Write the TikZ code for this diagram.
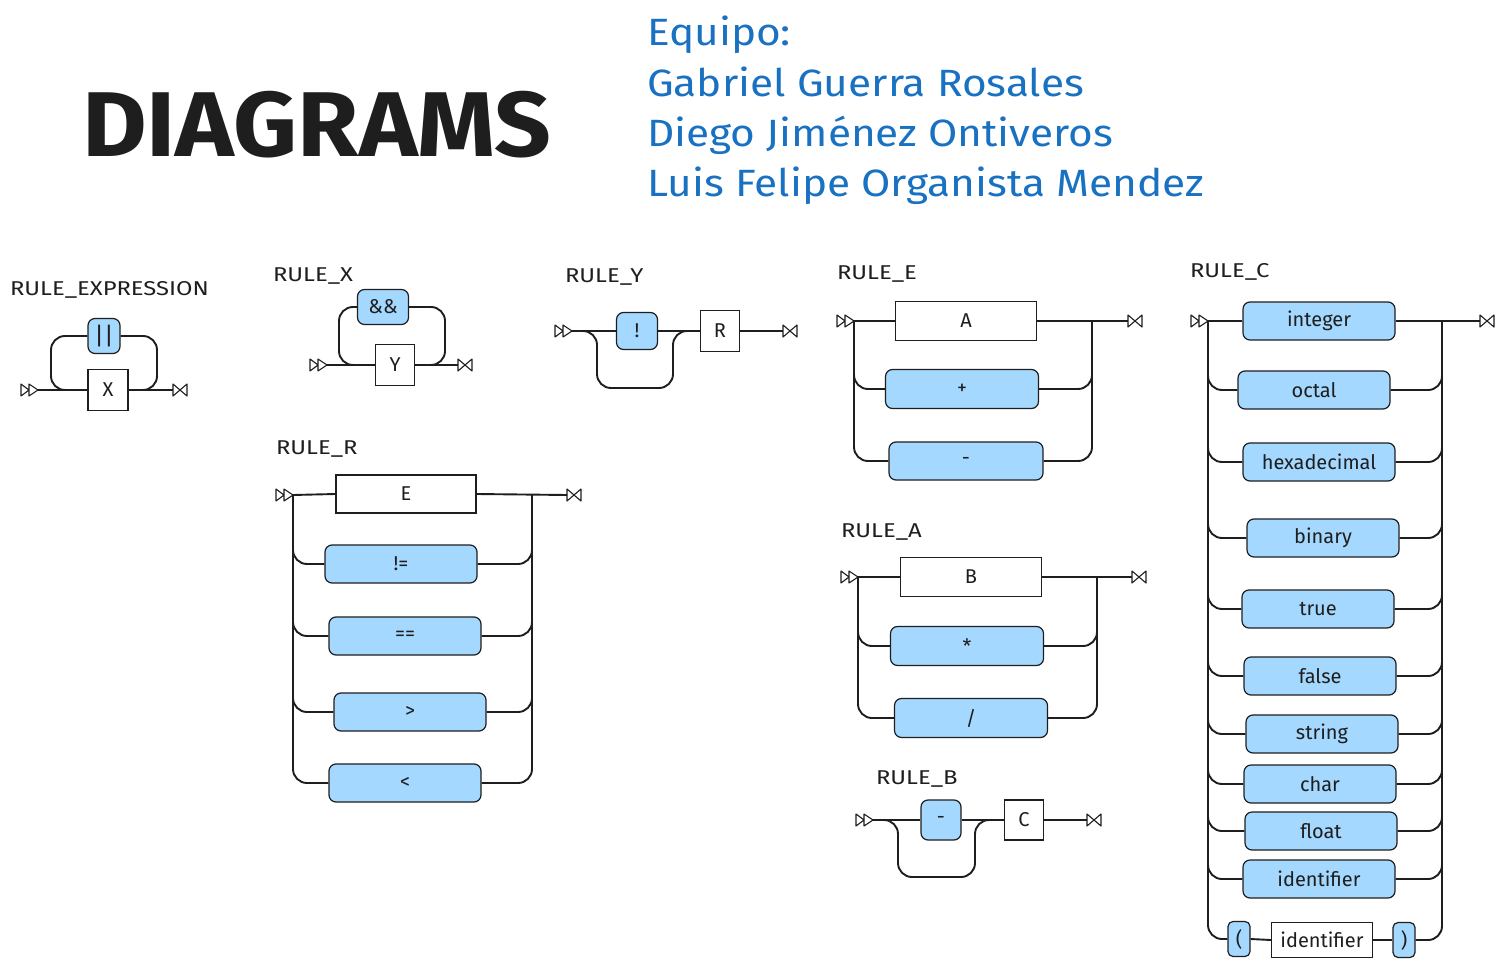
\documentclass[tikz,border=0pt]{standalone}
\usepackage{graphicx}
\usepackage{fontspec}
\setmainfont{Fira Sans}
\definecolor{ink}{HTML}{1E1E1E}
\definecolor{fillb}{HTML}{A5D8FF}
\definecolor{tblue}{HTML}{1971C2}
\newcommand{\lblw}[1]{\scalebox{1.19}[1]{#1}}
\newcommand{\namew}[1]{\scalebox{1.115}[1]{#1}}
\tikzset{
  term/.style={draw=ink, fill=fillb, rounded corners=7pt, line width=1.2pt, minimum width=152pt, minimum height=38pt, inner sep=0pt, font=\fontsize{20}{24}\selectfont, text=ink},
  nterm/.style={draw=ink, fill=white, line width=1.2pt, minimum width=140pt, minimum height=38pt, inner sep=0pt, font=\fontsize{20}{24}\selectfont, text=ink},
  conn/.style={draw=ink, line width=1.9pt, rounded corners=14pt},
  rulelbl/.style={anchor=base west, inner sep=0pt, font=\fontsize{20}{24}\selectfont, text=ink},
  namelbl/.style={anchor=base west, inner sep=0pt, font=\fontsize{38}{44}\selectfont, text=tblue},
  mk/.style={draw=ink, line width=1.1pt, line join=round},
  startmark/.pic={\draw[mk] (-17,-6) -- (-9,0) -- (-17,6) -- cycle (-9,-6) -- (0,0) -- (-9,6) -- cycle;},
  endmark/.pic={\draw[mk] (0,-6) -- (7,0) -- (0,6) -- cycle (14,-6) -- (7,0) -- (14,6) -- cycle;}
}
\begin{document}
\begin{tikzpicture}[x=1pt,y=-1pt]
\useasboundingbox (0,0) rectangle (1506,968);
\fill[white] (0,0) rectangle (1506,968);

% Title
\node[anchor=base west, inner sep=0pt, font=\fontsize{92}{100}\selectfont\bfseries, text=ink] (title) at (82,157) {\scalebox{1.08}[1]{DIAGRAMS}};
\node[namelbl] (t1) at (647,46) {\namew{Equipo:}};
\node[namelbl] (t2) at (647,97) {\namew{Gabriel Guerra Rosales}};
\node[namelbl] (t3) at (647,147) {\namew{Diego Jiménez Ontiveros}};
\node[namelbl] (t4) at (647,197) {\namew{Luis Felipe Organista Mendez}};

% ---------------- RULE_EXPRESSION
\node[rulelbl] (lex) at (10,295) {\lblw{RULE\_EXPRESSION}};
\node[nterm, minimum width=40pt, minimum height=41pt] (ex) at (108,390) {X};
\node[term, minimum width=32pt, minimum height=35pt, font=\fontsize{24}{28}\selectfont] (bar) at (104,336) {||};
\coordinate (exS) at (38,390);
\coordinate (exE) at (173,390);
\coordinate (exL) at (51,390);
\coordinate (exR) at (157,390);
\pic at (exS) {startmark};
\pic at (exE) {endmark};
\draw[conn] (exS) -- (ex.west);
\draw[conn] (ex.east) -- (exE);
\draw[conn] (ex.west) -- (exL) |- (bar.west);
\draw[conn] (bar.east) -| (exR) -- (ex.east);

% ---------------- RULE_X
\node[rulelbl] (lx) at (273,281) {\lblw{RULE\_X}};
\node[nterm, minimum width=39pt, minimum height=41pt] (xy) at (395,365) {Y};
\node[term, minimum width=51pt, minimum height=35pt] (amp) at (383,307) {\&\&};
\coordinate (xS) at (327,365);
\coordinate (xE) at (458,365);
\coordinate (xL) at (339,365);
\coordinate (xR) at (445,365);
\pic at (xS) {startmark};
\pic at (xE) {endmark};
\draw[conn] (xS) -- (xy.west);
\draw[conn] (xy.east) -- (xE);
\draw[conn] (xy.west) -- (xL) |- (amp.west);
\draw[conn] (amp.east) -| (xR) -- (xy.east);

% ---------------- RULE_Y
\node[rulelbl] (ly) at (565,283) {\lblw{RULE\_Y}};
\node[term, minimum width=41pt, minimum height=37pt] (bang) at (637,331) {!};
\node[nterm, minimum width=39pt, minimum height=41pt] (yr) at (720,331) {R};
\coordinate (yS) at (572,331);
\coordinate (yE) at (783,331);
\coordinate (yb1) at (597,388);
\coordinate (yb2) at (673,388);
\coordinate (yj) at (692,331);
\pic at (yS) {startmark};
\pic at (yE) {endmark};
\draw[conn] (yS) -- (bang.west);
\draw[conn] (bang.east) -- (yr.west);
\draw[conn] (yr.east) -- (yE);
\draw[conn] (yS) -| (yb1) -- (yb2) |- (yj);

% ---------------- RULE_E
\node[rulelbl] (le) at (837,279) {\lblw{RULE\_E}};
\node[nterm, minimum width=141pt, minimum height=39pt] (eA) at (966,321) {A};
\node[term, minimum width=153pt, minimum height=39pt] (ePlus) at (962,389) {+};
\node[term, minimum width=154pt, minimum height=38pt] (eMinus) at (966,461) {-};
\coordinate (eS) at (854,321);
\coordinate (eR) at (1092,321);
\coordinate (eE) at (1128,321);
\pic at (eS) {startmark};
\pic at (eE) {endmark};
\draw[conn] (eS) -- (eA.west);
\draw[conn] (eA.east) -- (eE);
\draw[conn] (eS) |- (ePlus.west);
\draw[conn] (eS) |- (eMinus.west);
\draw[conn] (ePlus.east) -| (eR);
\draw[conn] (eMinus.east) -| (eR);

% ---------------- RULE_R
\node[rulelbl] (lr) at (276,454) {\lblw{RULE\_R}};
\node[nterm, minimum width=140pt, minimum height=38pt] (rE) at (406,494) {E};
\node[term] (rNe) at (401,564) {!=};
\node[term] (rEq) at (405,636) {==};
\node[term] (rGt) at (410,712) {>};
\node[term] (rLt) at (405,783) {<};
\coordinate (rS) at (293,495);
\coordinate (rR) at (532,495);
\coordinate (rEnd) at (567,495);
\pic at (rS) {startmark};
\pic at (rEnd) {endmark};
\draw[conn] (rS) -- (rE.west);
\draw[conn] (rE.east) -- (rEnd);
\foreach \b in {rNe,rEq,rGt,rLt}{
  \draw[conn] (rS) |- (\b.west);
  \draw[conn] (\b.east) -| (rR);
}

% ---------------- RULE_A
\node[rulelbl] (la) at (841,537) {\lblw{RULE\_A}};
\node[nterm, minimum width=141pt, minimum height=39pt] (aB) at (971,577) {B};
\node[term, minimum width=153pt, minimum height=39pt] (aStar) at (967,646) {*};
\node[term, minimum width=153pt, minimum height=39pt] (aSl) at (971,718) {/};
\coordinate (aS) at (858,577);
\coordinate (aR) at (1097,577);
\coordinate (aE) at (1132,577);
\pic at (aS) {startmark};
\pic at (aE) {endmark};
\draw[conn] (aS) -- (aB.west);
\draw[conn] (aB.east) -- (aE);
\draw[conn] (aS) |- (aStar.west);
\draw[conn] (aS) |- (aSl.west);
\draw[conn] (aStar.east) -| (aR);
\draw[conn] (aSl.east) -| (aR);

% ---------------- RULE_B
\node[rulelbl] (lb) at (876,784) {\lblw{RULE\_B}};
\node[term, minimum width=40pt, minimum height=40pt] (bMin) at (941,820) {-};
\node[nterm, minimum width=39pt, minimum height=40pt] (bC) at (1024,820) {C};
\coordinate (bS) at (873,820);
\coordinate (bE) at (1087,820);
\coordinate (bb1) at (898,877);
\coordinate (bb2) at (975,877);
\coordinate (bj) at (992,820);
\pic at (bS) {startmark};
\pic at (bE) {endmark};
\draw[conn] (bS) -- (bMin.west);
\draw[conn] (bMin.east) -- (bC.west);
\draw[conn] (bC.east) -- (bE);
\draw[conn] (bS) -| (bb1) -- (bb2) |- (bj);

% ---------------- RULE_C
\node[rulelbl] (lc) at (1190,277) {\lblw{RULE\_C}};
\node[term] (c1) at (1319,321) {integer};
\node[term] (c2) at (1314,390) {octal};
\node[term] (c3) at (1319,462) {hexadecimal};
\node[term] (c4) at (1323,538) {binary};
\node[term] (c5) at (1318,609) {true};
\node[term] (c6) at (1320,676) {false};
\node[term] (c7) at (1322,734) {string};
\node[term] (c8) at (1320,784) {char};
\node[term] (c9) at (1321,831) {float};
\node[term] (c10) at (1319,879) {identifier};
\node[term, minimum width=22pt, minimum height=35pt, rounded corners=5pt] (lp) at (1239,939) {(};
\node[nterm, minimum width=101pt, minimum height=35pt] (cid) at (1322,940) {identifier};
\node[term, minimum width=22pt, minimum height=35pt, rounded corners=5pt] (rp) at (1404,940) {)};
\coordinate (cS) at (1208,321);
\coordinate (cR) at (1442,321);
\coordinate (cE) at (1480,321);
\pic at (cS) {startmark};
\pic at (cE) {endmark};
\draw[conn] (cS) -- (c1.west);
\draw[conn] (c1.east) -- (cE);
\foreach \b in {c2,c3,c4,c5,c6,c7,c8,c9,c10,lp}{
  \draw[conn] (cS) |- (\b.west);
}
\foreach \b in {c2,c3,c4,c5,c6,c7,c8,c9,c10,rp}{
  \draw[conn] (\b.east) -| (cR);
}
\draw[conn] (lp.east) -- (cid.west);
\draw[conn] (cid.east) -- (rp.west);
\end{tikzpicture}
\end{document}
